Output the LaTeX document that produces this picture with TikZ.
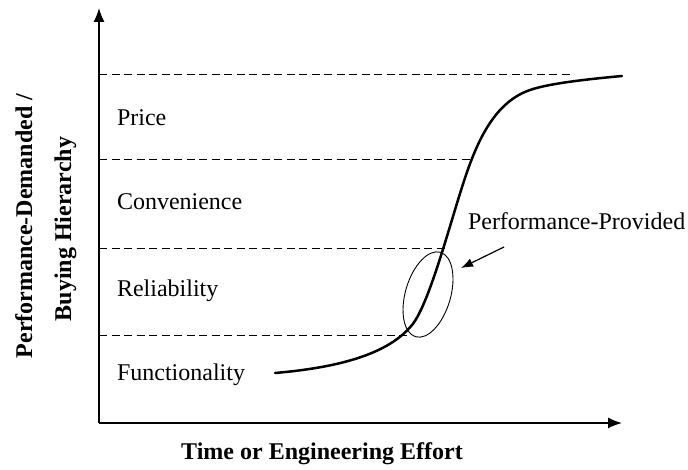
\documentclass[tikz,border=0pt]{standalone}
\usepackage{fontspec}
\setmainfont{Liberation Serif}
\usetikzlibrary{arrows.meta}

\begin{document}
\begin{tikzpicture}[x=1pt, y=1pt]
\tikzset{ >={Latex[length=14pt,width=11pt]}, inner sep=0pt, outer sep=0pt,
  level/.style={dash pattern=on 8pt off 4.5pt, line width=1pt},
  tier/.style={anchor=base west, font=\fontsize{24}{28}\selectfont},
  axislabel/.style={anchor=base, font=\fontsize{24}{28}\selectfont\bfseries} }
%\draw [lightgray, dashed](0,0) grid[step=10] (688,470);
\useasboundingbox (0,0) rectangle (688,470);

\coordinate (O) at (99,47);
\coordinate (YT) at (99,462);
\coordinate (XT) at (622,47);

\draw [->, line width=1.5pt] (O) -- (YT);
\draw [->, line width=1.5pt] (O) -- (XT);

% levels of the hierarchy
\coordinate (L1s) at (99,395); \coordinate (L1e) at (573,395);
\coordinate (L2s) at (99,310); \coordinate (L2e) at (470,310);
\coordinate (L3s) at (99,221); \coordinate (L3e) at (445,221);
\coordinate (L4s) at (99,134); \coordinate (L4e) at (407,134);

\draw [level] (L1s) -- (L1e);
\draw [level] (L2s) -- (L2e);
\draw [level] (L3s) -- (L3e);
\draw [level] (L4s) -- (L4e);

\node [tier] (PR) at (117,344) {Price};
\node [tier] (CO) at (117,260) {Convenience};
\node [tier] (RE) at (117,173) {Reliability};
\node [tier] (FU) at (117,89)  {Functionality};

% s-curve
\coordinate (C0) at (275,97);
\coordinate (C1) at (412,145);
\coordinate (C2) at (466,295);
\coordinate (C3) at (530,380);
\coordinate (C4) at (622,394);

\draw [line width=2.5pt, line cap=round]
  (C0) .. controls (345,103) and (390,118) .. (C1)
       .. controls (430,167) and (451,251) .. (C2)
       .. controls (478,330) and (495,368) .. (C3)
       .. controls (550,386.9) and (590,391) .. (C4);

\coordinate (E) at (428,175.5);
\draw [line width=0.9pt, rotate around={73.6:(E)}] (E) ellipse [x radius=44, y radius=22.6];

\node [tier] (PP) at (468,240) {Performance-Provided};
\coordinate (P1) at (504,223);
\coordinate (P2) at (461,202);
\draw [-{Latex[length=12pt,width=9pt]}, line width=1.2pt] (P1) -- (P2);

\node [axislabel] (XL) at (322,10) {Time or Engineering Effort};
\node [axislabel, rotate=90] (YL1) at (32,244) {Performance-Demanded /};
\node [axislabel, rotate=90] (YL2) at (71,241) {Buying Hierarchy};

\end{tikzpicture}
\end{document}
